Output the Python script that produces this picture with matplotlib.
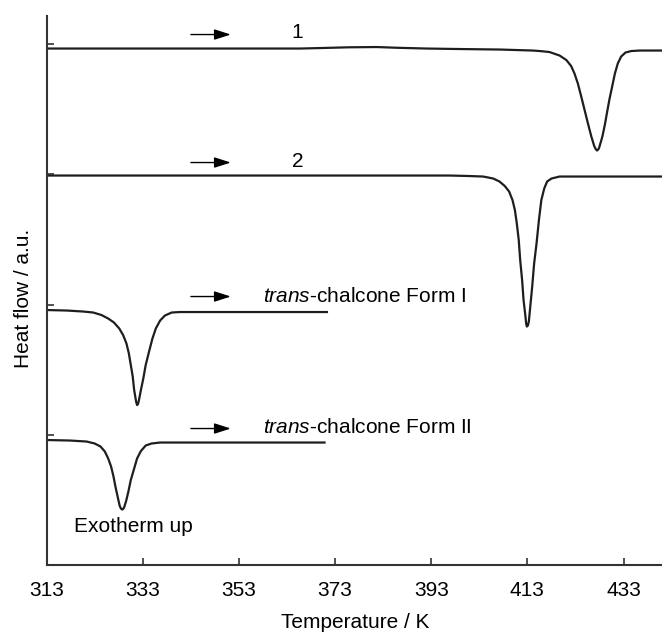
import matplotlib
matplotlib.use('Agg')
import matplotlib.pyplot as plt

plt.rcParams['font.family'] = ['Liberation Sans', 'DejaVu Sans']
plt.rcParams['mathtext.fontset'] = 'custom'
plt.rcParams['mathtext.rm'] = 'Liberation Sans'
plt.rcParams['mathtext.it'] = 'Liberation Sans:italic'

# ---- data (temperature in K, heat flow in a.u.) ----
temp_1 = [313.0, 340.0, 365.7, 370.0, 376.0, 381.7, 386.0, 392.0, 399.0, 407.3,
          414.1, 415.6, 417.6, 419.7, 421.1, 422.1, 422.8, 423.5, 424.2, 424.9,
          425.6, 426.3, 426.9, 427.2, 427.5, 427.8, 428.0, 428.6, 429.1, 429.6,
          430.1, 430.7, 431.2, 431.8, 432.5, 433.4, 434.6, 436.4, 441.0]
flow_1 = [103.3, 103.3, 103.3, 103.4, 103.55, 103.6, 103.45, 103.3, 103.2, 103.1,
          102.9, 102.8, 102.6, 101.9, 101.0, 99.8, 98.3, 96.3, 93.7, 91.0,
          88.3, 85.7, 83.8, 83.2, 82.9, 83.2, 83.7, 85.7, 88.0, 90.7,
          93.3, 96.0, 98.3, 100.3, 101.7, 102.5, 102.8, 102.9, 102.9]

temp_2 = [313.0, 396.9, 401.0, 403.8, 405.9, 407.2, 408.3, 409.2, 409.9, 410.4,
          410.8, 411.2, 411.5, 411.9, 412.2, 412.6, 412.75, 412.9, 413.1, 413.3,
          413.6, 414.0, 414.4, 414.9, 415.4, 415.9, 416.5, 417.1, 418.0, 419.7,
          423.9, 441.0]
flow_2 = [77.9, 77.9, 77.8, 77.7, 77.3, 76.7, 75.8, 74.7, 73.0, 71.0,
          68.3, 65.0, 61.0, 57.0, 53.0, 49.7, 48.2, 47.7, 47.9, 48.7,
          51.7, 55.7, 60.3, 64.3, 69.0, 73.0, 75.3, 76.7, 77.3, 77.7,
          77.7, 77.7]

temp_form1 = [313.0, 317.2, 320.6, 322.7, 324.4, 325.8, 327.0, 328.1, 328.9, 329.6,
              330.1, 330.5, 330.9, 331.2, 331.6, 331.8, 332.0, 332.2, 332.6, 333.1,
              333.6, 334.3, 335.0, 335.7, 336.6, 337.6, 339.0, 340.7, 371.3]
flow_form1 = [51.0, 50.9, 50.7, 50.5, 50.0, 49.3, 48.5, 47.3, 46.0, 44.3,
              42.3, 40.0, 37.7, 35.0, 32.7, 32.0, 32.2, 33.0, 35.0, 37.3,
              40.0, 42.7, 45.3, 47.3, 48.9, 49.9, 50.5, 50.6, 50.6]

temp_form2 = [313.0, 317.8, 321.3, 323.0, 324.2, 325.1, 325.8, 326.4, 326.9, 327.3,
              327.8, 328.2, 328.45, 328.7, 328.9, 329.1, 329.5, 330.0, 330.5, 331.2,
              331.8, 332.6, 333.6, 334.8, 336.6, 370.8]
flow_form2 = [25.0, 24.9, 24.7, 24.3, 23.7, 22.7, 21.3, 19.7, 17.7, 15.7,
              13.5, 11.8, 11.3, 11.1, 11.2, 11.5, 12.7, 14.7, 17.0, 19.3,
              21.3, 22.8, 23.9, 24.3, 24.5, 24.5]

curve_labels = ['1', '2', r'$\it{trans}$-chalcone Form I', r'$\it{trans}$-chalcone Form II']
offset_ticks = [104.3, 78.3, 52.1, 26.1]
x_ticks = [313, 333, 353, 373, 393, 413, 433]

# ---- figure ----
fig = plt.figure(figsize=(6.62, 6.34), dpi=100)
ax = fig.add_axes([0.0705, 0.1088, 0.9295, 0.8659])

line_col = '#1e1e1e'
for t, f in [(temp_1, flow_1), (temp_2, flow_2),
             (temp_form1, flow_form1), (temp_form2, flow_form2)]:
    ax.plot(t, f, color=line_col, lw=1.6, solid_joinstyle='round')

ax.set_xlim(313, 441)
ax.set_ylim(0, 109.8)

ax.spines['top'].set_visible(False)
ax.spines['right'].set_visible(False)
for s in ['left', 'bottom']:
    ax.spines[s].set_linewidth(1.5)
    ax.spines[s].set_color('#333333')

ax.set_xticks(x_ticks)
ax.tick_params(axis='x', direction='in', length=5, width=1.2, colors='#333333',
               labelsize=15, labelcolor='black', pad=11.5)
ax.set_yticks(offset_ticks)
ax.set_yticklabels([])
ax.tick_params(axis='y', direction='in', length=4.7, width=1.2, colors='#333333')

ax.set_xlabel('Temperature / K', fontsize=15)
ax.xaxis.set_label_coords(0.502, -0.088)
ax.set_ylabel('Heat flow / a.u.', fontsize=15)
ax.yaxis.set_label_coords(-0.022, 0.486)

# heating-direction arrows and curve labels
arrow_y = [106.1, 80.5, 53.7, 27.3]
for y in arrow_y:
    ax.annotate('', xy=(351.3, y), xytext=(343.0, y),
                arrowprops=dict(arrowstyle='-|>,head_length=1.0,head_width=0.32',
                                lw=1.0, color='black', shrinkA=0, shrinkB=0))
ax.text(365.2, 106.5, curve_labels[0], fontsize=15, ha='center', va='center')
ax.text(365.2, 80.7, curve_labels[1], fontsize=15, ha='center', va='center')
ax.text(358.1, 53.7, curve_labels[2], fontsize=15, ha='left', va='center')
ax.text(358.1, 27.5, curve_labels[3], fontsize=15, ha='left', va='center')
ax.text(318.6, 7.8, 'Exotherm up', fontsize=15, ha='left', va='center')

fig.savefig('out.png', dpi=100)
